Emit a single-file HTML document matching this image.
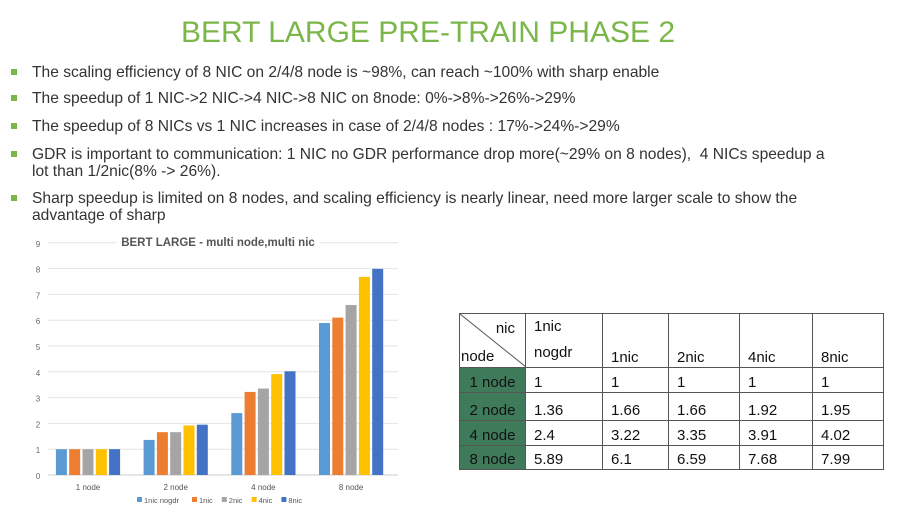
<!DOCTYPE html>
<html><head><meta charset="utf-8"><style>
body{margin:0;width:915px;height:519px;background:#fff;font-family:"Liberation Sans",sans-serif;position:relative;overflow:hidden}
.title{position:absolute;left:0;width:856px;top:16px;text-align:center;font-size:30px;color:#7ab648}
.b{position:absolute;left:32px;font-size:15.6px;color:#333;line-height:17px;width:840px;white-space:nowrap}
.b:before{content:"";position:absolute;left:-21px;top:5px;width:6px;height:6px;background:#7ab648}
table{position:absolute;left:459px;top:313px;border-collapse:collapse;table-layout:fixed;width:424px;font-size:15px;color:#111}
td{border:1px solid #555;padding:0 0 1px 8px;vertical-align:bottom;box-sizing:border-box}
.g{background:#3f7a5a;color:#111;text-align:center;padding:0 0 1px 0}
</style></head><body>
<div class="title">BERT LARGE PRE-TRAIN PHASE 2</div>
<div class="b" style="top:64px">The scaling efficiency of 8 NIC on 2/4/8 node is ~98%, can reach ~100% with sharp enable</div>
<div class="b" style="top:90px">The speedup of 1 NIC-&gt;2 NIC-&gt;4 NIC-&gt;8 NIC on 8node: 0%-&gt;8%-&gt;26%-&gt;29%</div>
<div class="b" style="top:118px">The speedup of 8 NICs vs 1 NIC increases in case of 2/4/8 nodes : 17%-&gt;24%-&gt;29%</div>
<div class="b" style="top:146px">GDR is important to communication: 1 NIC no GDR performance drop more(~29% on 8 nodes),&nbsp; 4 NICs speedup a<br>lot than 1/2nic(8% -&gt; 26%).</div>
<div class="b" style="top:190px">Sharp speedup is limited on 8 nodes, and scaling efficiency is nearly linear, need more larger scale to show the<br>advantage of sharp</div>

<svg id="chart" width="420" height="290" style="position:absolute;left:0;top:225px">
</svg>
<script>
const categories=["1 node","2 node","4 node","8 node"];
const seriesNames=["1nic nogdr","1nic","2nic","4nic","8nic"];
const nogdr=[1,1.36,2.4,5.89];
const nic1=[1,1.66,3.22,6.1];
const nic2=[1,1.66,3.35,6.59];
const nic4=[1,1.92,3.91,7.68];
const nic8=[1,1.95,4.02,7.99];
const yTicks=[0,1,2,3,4,5,6,7,8,9];
const colors=["#5b9bd5","#ed7d31","#a5a5a5","#ffc000","#4472c4"];
const series=[nogdr,nic1,nic2,nic4,nic8];
const svg=document.getElementById('chart');const NS="http://www.w3.org/2000/svg";
const y=v=>250-v*25.8, gx=i=>88+i*87.7;
function mk(t,a){const e=document.createElementNS(NS,t);for(const k in a)e.setAttribute(k,a[k]);svg.appendChild(e);return e;}
yTicks.forEach(t=>{
 const l=mk('line',{x1:48,x2:398,y1:y(t),y2:y(t),stroke:t?'#e4e4e4':'#ccc'});
 
 
 const tx=mk('text',{x:38,y:y(t)+4,'font-size':8,fill:'#666','text-anchor':'middle'});tx.textContent=t;
 
 
});
const bg=mk('rect',{x:116,y:8,width:204,height:16,fill:'#fff'});


const ct=mk('text',{x:218,y:21,'text-anchor':'middle','font-size':11.5,'font-weight':'bold',fill:'#555'});ct.textContent='BERT LARGE - multi node,multi nic';


categories.forEach((c,i)=>{
 series.forEach((s,j)=>{
  const r=mk('rect',{x:gx(i)+(j-2)*13.3-5.5,y:y(s[i]),width:11,height:s[i]*25.8,fill:colors[j]});
  
  
 });
 const t=mk('text',{x:gx(i),y:265,'font-size':8,fill:'#555','text-anchor':'middle'});t.textContent=c;
 
 
});
let lx=137;
seriesNames.forEach((n,j)=>{
 const r=mk('rect',{x:lx,y:272,width:5,height:5,fill:colors[j]});
 
 
 const t=mk('text',{x:lx+7,y:278,'font-size':7.5,fill:'#555'});t.textContent=n;
 
 
 lx+=7+n.length*4.2+6;
});
</script>

<table>
<colgroup><col style="width:66px"><col style="width:77px"><col style="width:66px"><col style="width:71px"><col style="width:73px"><col style="width:71px"></colgroup>
<tr style="height:53px"><td style="padding:0;position:relative"><svg width="66" height="53" style="position:absolute;left:0;top:0"><line x1="0" y1="0" x2="66" y2="53" stroke="#555"/></svg><div style="position:absolute;right:10px;top:6px">nic</div><div style="position:absolute;left:1px;bottom:2px">node</div></td><td style="line-height:26px">1nic<br>nogdr</td><td>1nic</td><td>2nic</td><td>4nic</td><td>8nic</td></tr>
<tr style="height:25px"><td class="g">1 node</td><td>1</td><td>1</td><td>1</td><td>1</td><td>1</td></tr>
<tr style="height:28px"><td class="g">2 node</td><td>1.36</td><td>1.66</td><td>1.66</td><td>1.92</td><td>1.95</td></tr>
<tr style="height:25px"><td class="g">4 node</td><td>2.4</td><td>3.22</td><td>3.35</td><td>3.91</td><td>4.02</td></tr>
<tr style="height:24px"><td class="g">8 node</td><td>5.89</td><td>6.1</td><td>6.59</td><td>7.68</td><td>7.99</td></tr>
</table>
</body></html>
